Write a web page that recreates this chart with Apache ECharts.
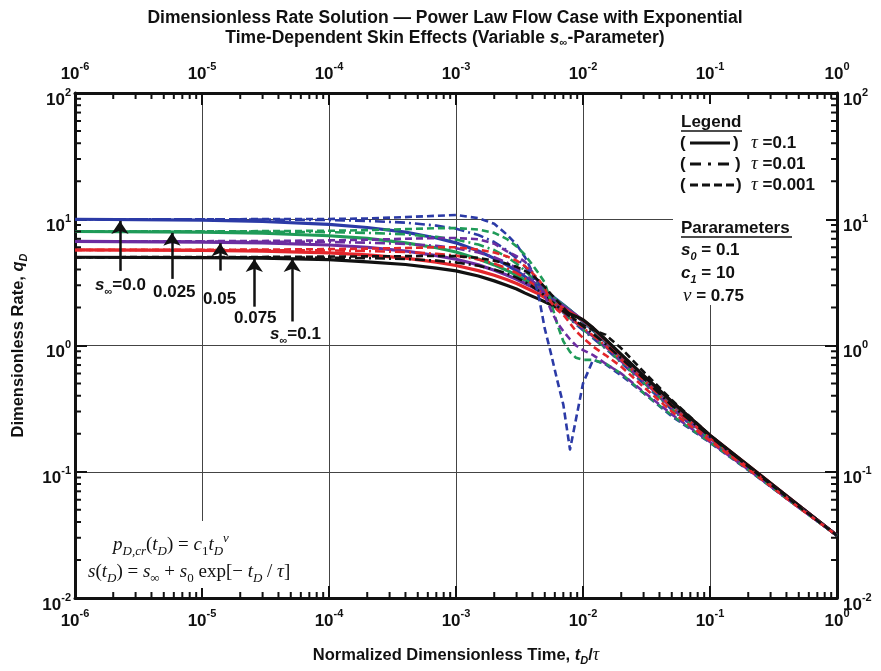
<!DOCTYPE html>
<html><head><meta charset="utf-8">
<script src="https://cdn.jsdelivr.net/npm/echarts@6/dist/echarts.min.js"></script>
<style>html,body{margin:0;padding:0;background:#fff}#c{width:881px;height:671px}</style>
</head><body><div id="c"></div>
<script>
// ---------------- data ----------------
const tD = [1e-6, 1e-5, 3e-5, 1e-4, 2e-4, 4e-4, 7e-4, 1e-3, 1.5e-3, 2e-3, 2.5e-3, 3e-3, 3.5e-3, 4e-3, 4.5e-3, 5e-3, 5.6e-3, 6.3e-3, 7e-3, 7.9e-3, 8.8e-3, 1e-2, 1.2e-2, 1.5e-2, 2e-2, 3e-2, 5e-2, 0.1, 0.2, 0.5, 1];

// tau = 0.1 (solid)
const blueSolid   = [10.0, 9.85, 9.6, 9.1, 8.6, 7.9, 7.1, 6.5, 5.6, 4.9, 4.35, 3.9, 3.5, 3.2, 2.95, 2.72, 2.5, 2.28, 2.1, 1.9, 1.73, 1.55, 1.32, 1.07, 0.8, 0.55, 0.345, 0.19, 0.11, 0.053, 0.0313];
const greenSolid  = [8.0, 7.9, 7.75, 7.4, 7.05, 6.5, 5.95, 5.5, 4.85, 4.35, 3.95, 3.6, 3.3, 3.05, 2.85, 2.65, 2.45, 2.25, 2.08, 1.9, 1.74, 1.57, 1.34, 1.09, 0.82, 0.56, 0.35, 0.192, 0.111, 0.0535, 0.0313];
const purpleSolid = [6.67, 6.6, 6.5, 6.25, 6.0, 5.6, 5.15, 4.82, 4.35, 3.95, 3.62, 3.35, 3.1, 2.9, 2.72, 2.55, 2.37, 2.2, 2.05, 1.88, 1.74, 1.58, 1.36, 1.1, 0.83, 0.57, 0.355, 0.193, 0.111, 0.054, 0.0313];
const redSolid    = [5.71, 5.67, 5.6, 5.42, 5.22, 4.92, 4.58, 4.3, 3.92, 3.6, 3.33, 3.1, 2.88, 2.7, 2.55, 2.4, 2.25, 2.1, 1.97, 1.83, 1.71, 1.59, 1.37, 1.11, 0.84, 0.575, 0.358, 0.194, 0.112, 0.054, 0.0313];
const blackSolid  = [5.0, 4.97, 4.93, 4.78, 4.6, 4.38, 4.1, 3.9, 3.55, 3.25, 3.0, 2.8, 2.6, 2.45, 2.33, 2.22, 2.1, 1.98, 1.88, 1.78, 1.7, 1.6, 1.38, 1.12, 0.85, 0.58, 0.36, 0.195, 0.112, 0.054, 0.0313];

// tau = 0.01 (dash-dot)
const blueDashDot   = [10, 10, 9.95, 9.85, 9.7, 9.4, 8.9, 8.4, 7.5, 6.6, 5.7, 4.9, 4.2, 3.6, 3.1, 2.7, 2.35, 2.05, 1.82, 1.62, 1.47, 1.32, 1.14, 0.95, 0.73, 0.5, 0.31, 0.18, 0.106, 0.053, 0.0313];
const greenDashDot  = [8, 8, 7.97, 7.9, 7.8, 7.6, 7.25, 6.9, 6.3, 5.7, 5.05, 4.45, 3.9, 3.42, 3.0, 2.65, 2.32, 2.05, 1.84, 1.64, 1.49, 1.34, 1.16, 0.96, 0.74, 0.51, 0.315, 0.182, 0.107, 0.053, 0.0313];
const purpleDashDot = [6.67, 6.66, 6.64, 6.6, 6.52, 6.38, 6.15, 5.9, 5.45, 5.0, 4.55, 4.1, 3.65, 3.25, 2.9, 2.6, 2.3, 2.05, 1.85, 1.66, 1.51, 1.36, 1.18, 0.98, 0.75, 0.52, 0.32, 0.184, 0.108, 0.053, 0.0313];
const redDashDot    = [5.71, 5.7, 5.69, 5.66, 5.6, 5.5, 5.33, 5.15, 4.8, 4.45, 4.1, 3.75, 3.4, 3.08, 2.8, 2.53, 2.27, 2.04, 1.86, 1.68, 1.53, 1.38, 1.2, 1.0, 0.77, 0.53, 0.325, 0.186, 0.108, 0.053, 0.0313];
const blackDashDot  = [5, 5, 4.99, 4.96, 4.92, 4.84, 4.7, 4.55, 4.28, 4.0, 3.72, 3.45, 3.18, 2.93, 2.7, 2.48, 2.25, 2.04, 1.87, 1.7, 1.56, 1.42, 1.24, 1.03, 0.79, 0.55, 0.335, 0.19, 0.11, 0.054, 0.0313];

// tau = 0.001 (dashed)
const blueDashed   = [10, 10.0, 10.02, 10.05, 10.15, 10.4, 10.65, 10.8, 10.2, 9.2, 7.6, 6.3, 5.0, 3.8, 2.4, 1.36, 0.86, 0.52, 0.34, 0.15, 0.26, 0.5, 0.77, 0.71, 0.58, 0.42, 0.275, 0.17, 0.103, 0.052, 0.0313];
const greenDashed  = [8, 8.02, 8.05, 8.1, 8.2, 8.35, 8.5, 8.5, 8.3, 7.8, 7.0, 6.1, 5.2, 4.35, 3.7, 3.15, 2.2, 1.45, 1.08, 0.89, 0.8, 0.77, 0.77, 0.72, 0.6, 0.42, 0.28, 0.171, 0.104, 0.052, 0.0313];
const purpleDashed = [6.67, 6.7, 6.73, 6.8, 6.88, 7.0, 7.1, 7.1, 6.95, 6.4, 5.6, 5.1, 4.6, 3.8, 3.05, 2.5, 1.9, 1.5, 1.3, 1.12, 1.0, 0.92, 0.84, 0.72, 0.6, 0.43, 0.285, 0.172, 0.104, 0.052, 0.0313];
const redDashed    = [5.71, 5.73, 5.75, 5.8, 5.85, 5.92, 6.0, 6.0, 5.75, 5.45, 5.1, 4.7, 4.25, 3.75, 3.3, 2.85, 2.2, 1.9, 1.75, 1.5, 1.3, 1.15, 0.98, 0.84, 0.68, 0.47, 0.3, 0.176, 0.105, 0.052, 0.0313];
const blackDashed  = [5, 5.02, 5.03, 5.06, 5.08, 5.1, 5.12, 5.1, 4.95, 4.7, 4.45, 4.2, 3.9, 3.6, 3.25, 2.9, 2.55, 2.25, 2.0, 1.75, 1.58, 1.45, 1.33, 1.22, 0.95, 0.62, 0.37, 0.195, 0.11, 0.053, 0.0313];

// tick labels (exponents of 10)
const xTickExps = [-6, -5, -4, -3, -2, -1, 0];
const yTickExps = [-2, -1, 0, 1, 2];

// annotation arrows (data coordinates): x, base, tip
const arrowX    = [2.26e-6, 5.8e-6, 1.39e-5, 2.58e-5, 5.14e-5];
const arrowBase = [3.9, 3.37, 3.92, 2.03, 1.55];
const arrowTip  = [9.7, 7.8, 6.45, 4.85, 4.85];

// ---------------- styling ----------------
const FONT = 'Liberation Sans, Arial, sans-serif';
const SERIF = 'Liberation Serif, Times New Roman, serif';
const COL = {blue:'#2b3aa6', green:'#1f9b58', purple:'#6c2da0', red:'#e3262b', black:'#111111'};
const DASH = {solid:'solid', dashdot:[10,4,2,4], dashed:[7,4]};

const curves = [
  [blueSolid,'blue','solid'],[greenSolid,'green','solid'],[purpleSolid,'purple','solid'],[redSolid,'red','solid'],[blackSolid,'black','solid'],
  [blueDashDot,'blue','dashdot'],[greenDashDot,'green','dashdot'],[purpleDashDot,'purple','dashdot'],[redDashDot,'red','dashdot'],[blackDashDot,'black','dashdot'],
  [blueDashed,'blue','dashed'],[greenDashed,'green','dashed'],[purpleDashed,'purple','dashed'],[redDashed,'red','dashed'],[blackDashed,'black','dashed']
];

const tickRich = {
  b:{fontFamily:FONT, fontWeight:'bold', fontSize:17, color:'#111', lineHeight:26},
  e:{fontFamily:FONT, fontWeight:'bold', fontSize:11, color:'#111', verticalAlign:'top', lineHeight:14}
};
const expLabel = v => '{b|10}{e|' + Math.round(Math.log10(v)) + '}';

function axisCommon(){
  return {
    type:'log', logBase:10,
    axisLine:{show:true, onZero:false, lineStyle:{color:'#111', width:3}},
    axisTick:{show:true, inside:true, length:12, lineStyle:{color:'#111', width:2}},
    minorTick:{show:false}, minorSplitLine:{show:false},
    axisLabel:{formatter:expLabel, rich:tickRich, showMinLabel:true, showMaxLabel:true}
  };
}

const series = curves.map(([vals, c, st]) => ({
  type:'line', showSymbol:false, smooth:false, z:3,
  lineStyle:{color:COL[c], width: st==='solid'?3.2:2.6, type:DASH[st], join:'round'},
  data: tD.map((x,i)=>[x, vals[i]])
}));

// minor log ticks (decoration on the frame)
const minorX = []; for (let d=-6; d<0; d++) for (let k=2; k<=9; k++) minorX.push(k*Math.pow(10,d));
const minorY = []; for (let d=-2; d<2; d++) for (let k=2; k<=9; k++) minorY.push(k*Math.pow(10,d));
series.push({
  type:'custom', silent:true, clip:false, z:5,
  data: minorX.map(x=>[x,1]),
  renderItem:(p, api)=>{
    const x = api.value(0);
    const b = api.coord([x,1e-2]), t = api.coord([x,1e2]);
    return {type:'group', children:[
      {type:'line', shape:{x1:b[0],y1:b[1],x2:b[0],y2:b[1]-6}, style:{stroke:'#111',lineWidth:2}},
      {type:'line', shape:{x1:t[0],y1:t[1],x2:t[0],y2:t[1]+6}, style:{stroke:'#111',lineWidth:2}}
    ]};
  }
});
series.push({
  type:'custom', silent:true, clip:false, z:5,
  data: minorY.map(y=>[1e-3,y]),
  renderItem:(p, api)=>{
    const y = api.value(1);
    const l = api.coord([1e-6,y]), r = api.coord([1,y]);
    return {type:'group', children:[
      {type:'line', shape:{x1:l[0],y1:l[1],x2:l[0]+6,y2:l[1]}, style:{stroke:'#111',lineWidth:2}},
      {type:'line', shape:{x1:r[0],y1:r[1],x2:r[0]-6,y2:r[1]}, style:{stroke:'#111',lineWidth:2}}
    ]};
  }
});
// arrows
series.push({
  type:'line', data:[], silent:true, z:6,
  markLine:{
    silent:true, animation:false, symbol:['none','arrow'], symbolSize:13,
    lineStyle:{color:'#111', width:2.5, type:'solid'}, label:{show:false},
    data: arrowX.map((x,i)=>[{coord:[x, arrowBase[i]]},{coord:[x, arrowTip[i]]}])
  }
});

const txtRich = {
  b:{fontFamily:FONT, fontWeight:'bold', fontSize:17, color:'#111', lineHeight:24},
  si:{fontFamily:FONT, fontWeight:'bold', fontStyle:'italic', fontSize:17, color:'#111', lineHeight:24},
  sub:{fontFamily:FONT, fontWeight:'bold', fontStyle:'italic', fontSize:11, color:'#111', verticalAlign:'bottom', lineHeight:12},
  g:{fontFamily:SERIF, fontStyle:'italic', fontSize:19, color:'#111', lineHeight:24}
};
const serRich = {
  i:{fontFamily:SERIF, fontStyle:'italic', fontSize:19, color:'#222', lineHeight:26},
  r:{fontFamily:SERIF, fontSize:19, color:'#222', lineHeight:26},
  s:{fontFamily:SERIF, fontStyle:'italic', fontSize:13, color:'#222', verticalAlign:'bottom', lineHeight:13},
  n:{fontFamily:SERIF, fontSize:13, color:'#222', verticalAlign:'bottom', lineHeight:13},
  p:{fontFamily:SERIF, fontStyle:'italic', fontSize:13, color:'#222', verticalAlign:'top', lineHeight:13}
};
function T(x, y, text, rich, align){
  return {type:'text', x, y, z:20, style:{text, rich, textAlign:align||'left', textVerticalAlign:'middle', fill:'#111', font:'bold 17px '+FONT}};
}
function L(x1,y1,x2,y2,w,dash){
  return {type:'line', z:20, shape:{x1,y1,x2,y2}, style:{stroke:'#111', lineWidth:w, lineDash:dash||null}};
}

const titleRich = {
  b:{fontFamily:FONT, fontWeight:'bold', fontSize:17.5, color:'#111', lineHeight:21},
  si:{fontFamily:FONT, fontWeight:'bold', fontStyle:'italic', fontSize:17.5, color:'#111', lineHeight:21},
  sub:{fontFamily:FONT, fontWeight:'bold', fontStyle:'italic', fontSize:11, color:'#111', verticalAlign:'bottom', lineHeight:10}
};

const graphic = [
  {type:'rect', z:1, shape:{x:673,y:104,width:153,height:201}, style:{fill:'#fff'}},
  {type:'rect', z:1, shape:{x:82,y:521,width:240,height:67}, style:{fill:'#fff'}},
  // title
  T(445, 18, '{b|Dimensionless Rate Solution \u2014 Power Law Flow Case with Exponential}', titleRich, 'center'),
  T(445, 38, '{b|Time-Dependent Skin Effects (Variable }{si|s}{sub|\u221e}{b|-Parameter)}', titleRich, 'center'),
  // legend
  T(681, 122, '{b|Legend}', txtRich), L(681,131,742,131,1.5),
  T(680, 143, '{b|(}', txtRich), L(690,143,730,143,3), T(733, 143, '{b|)}', txtRich), T(751, 143, '{g|\u03c4}{b| =0.1}', txtRich),
  T(680, 164, '{b|(}', txtRich), L(690,164,732,164,3,[11,7,3,7]), T(735, 164, '{b|)}', txtRich), T(751, 164, '{g|\u03c4}{b| =0.01}', txtRich),
  T(680, 185, '{b|(}', txtRich), L(690,185,734,185,3,[8,4]), T(736, 185, '{b|)}', txtRich), T(751, 185, '{g|\u03c4}{b| =0.001}', txtRich),
  // parameters
  T(681, 228, '{b|Pararameters}', txtRich), L(681,237,792,237,1.5),
  T(681, 250, '{si|s}{sub|0}{b| = 0.1}', txtRich),
  T(681, 273, '{si|c}{sub|1}{b| = 10}', txtRich),
  T(683, 296, '{g|\u03bd}{b| = 0.75}', txtRich),
  // arrow labels
  T(95, 285, '{si|s}{sub|\u221e}{b|=0.0}', txtRich),
  T(153, 292, '{b|0.025}', txtRich),
  T(203, 299, '{b|0.05}', txtRich),
  T(234, 318, '{b|0.075}', txtRich),
  T(270, 334, '{si|s}{sub|\u221e}{b|=0.1}', txtRich),
  // formulas
  T(113, 545, '{i|p}{s|D,cr}{r|(}{i|t}{s|D}{r|) = }{i|c}{n|1}{i|t}{s|D}{p|\u03bd}', serRich),
  T(88, 572, '{i|s}{r|(}{i|t}{s|D}{r|) = }{i|s}{n|\u221e}{r| + }{i|s}{n|0}{r| exp[\u2212 }{i|t}{s|D}{r| / }{i|\u03c4}{r|]}', serRich)
];

const nameRich = {
  i:{fontFamily:FONT, fontWeight:'bold', fontStyle:'italic', fontSize:16.5, color:'#111', lineHeight:22},
  s:{fontFamily:FONT, fontWeight:'bold', fontStyle:'italic', fontSize:11, color:'#111', verticalAlign:'bottom', lineHeight:12},
  n:{fontFamily:FONT, fontWeight:'bold', fontSize:16.5, color:'#111', lineHeight:22},
  t:{fontFamily:SERIF, fontStyle:'italic', fontSize:18, color:'#111', lineHeight:22}
};

const option = {
  animation:false,
  backgroundColor:'#fff',
  grid:{left:75, right:44, top:93, bottom:70, containLabel:false},
  xAxis:[
    Object.assign(axisCommon(), {
      min:1e-6, max:1, position:'bottom',
      splitLine:{show:true, lineStyle:{color:'#444', width:1}},
      axisLabel:Object.assign(axisCommon().axisLabel, {margin:10}),
      name:'{n|Normalized Dimensionless Time, }{i|t}{s|D}{n|/}{t|\u03c4}', nameLocation:'middle', nameGap:46,
      nameTextStyle:{rich:nameRich}
    }),
    Object.assign(axisCommon(), {
      min:1e-6, max:1, position:'top', splitLine:{show:false},
      axisLabel:Object.assign(axisCommon().axisLabel, {margin:6})
    })
  ],
  yAxis:[
    Object.assign(axisCommon(), {
      min:1e-2, max:1e2, position:'left',
      splitLine:{show:true, lineStyle:{color:'#444', width:1}},
      axisLabel:Object.assign(axisCommon().axisLabel, {margin:4, padding:[14,0,0,0]}),
      name:'{n|Dimensionless Rate, }{i|q}{s|D}', nameLocation:'middle', nameGap:46, nameRotate:90,
      nameTextStyle:{rich:nameRich}
    }),
    Object.assign(axisCommon(), {
      min:1e-2, max:1e2, position:'right', splitLine:{show:false},
      axisLabel:Object.assign(axisCommon().axisLabel, {margin:6, padding:[14,0,0,0]})
    })
  ],
  series,
  graphic
};

const chart = echarts.init(document.getElementById('c'));
chart.setOption(option);
</script>
</body></html>
